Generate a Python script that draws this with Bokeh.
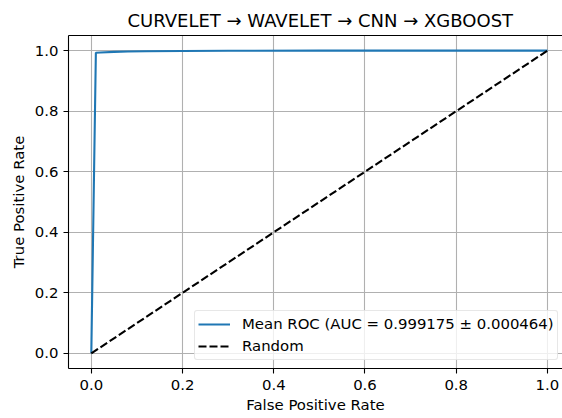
from bokeh.plotting import figure
from bokeh.models import FixedTicker, LinearAxis, Range1d, Legend, LegendItem
from bokeh.embed import file_html
from bokeh.resources import INLINE

# data
mean_fpr = [0.0, 0.01, 0.02, 0.05, 0.08, 0.12, 0.2, 0.3, 0.5, 1.0]
mean_tpr = [0.0, 0.993, 0.994, 0.996, 0.997, 0.998, 0.999, 0.9995, 1.0, 1.0]
rand_x = [0.0, 1.0]
rand_y = [0.0, 1.0]
ticks = [0.0, 0.2, 0.4, 0.6, 0.8, 1.0]
tick_labels = ["0.0", "0.2", "0.4", "0.6", "0.8", "1.0"]
title_text = "CURVELET \u2192 WAVELET \u2192 CNN \u2192 XGBOOST"
mean_label = "Mean ROC (AUC = 0.999175 \u00b1 0.000464)"
rand_label = "Random"

FONT = "DejaVu Sans"
FS = "14.9px"

p = figure(
    output_backend="svg", toolbar_location=None,
    frame_width=494, frame_height=333,
    min_border_left=68, min_border_right=0, min_border_top=35, min_border_bottom=48,
    x_range=Range1d(-0.05, 1.033), y_range=Range1d(-0.05, 1.05),
    x_axis_label="False Positive Rate", y_axis_label="True Positive Rate",
)
p.outline_line_color = None
p.background_fill_color = "white"
p.border_fill_color = "white"

p.title.text = title_text
p.title.text_font = FONT
p.title.text_font_size = "18px"
p.title.text_font_style = "normal"
p.title.align = "left"
p.title.offset = 59
p.title.text_color = "black"

lbl = dict(zip(ticks, tick_labels))
for ax in (p.xaxis[0], p.yaxis[0]):
    ax.ticker = FixedTicker(ticks=ticks)
    ax.major_label_overrides = lbl
    ax.major_label_text_font = FONT
    ax.major_label_text_font_size = FS
    ax.major_label_text_color = "black"
    ax.axis_label_text_font = FONT
    ax.axis_label_text_font_size = FS
    ax.axis_label_text_font_style = "normal"
    ax.axis_label_text_color = "black"
    ax.major_tick_out = 5
    ax.major_tick_in = 0
    ax.minor_tick_line_color = None
    ax.axis_line_color = "black"
    ax.axis_line_width = 1.1
    ax.major_tick_line_color = "black"
    ax.major_tick_line_width = 1.1
p.xaxis[0].major_label_standoff = 6
p.yaxis[0].major_label_standoff = 5
p.xaxis[0].axis_label_standoff = 3
p.yaxis[0].axis_label_standoff = 4

top = LinearAxis(ticker=FixedTicker(ticks=[]), axis_line_color="black", axis_line_width=1.1,
                 major_tick_line_color=None, minor_tick_line_color=None,
                 major_label_text_font_size="0px")
p.add_layout(top, "above")

for g in (p.xgrid[0], p.ygrid[0]):
    g.ticker = FixedTicker(ticks=ticks)
    g.grid_line_color = "#b0b0b0"
    g.grid_line_width = 1.1

r1 = p.line(mean_fpr, mean_tpr, line_color="#1f77b4", line_width=2.1)
r2 = p.line(rand_x, rand_y, line_color="black", line_width=2.1, line_dash="8 3")

legend = Legend(items=[LegendItem(label=mean_label, renderers=[r1]),
                       LegendItem(label=rand_label, renderers=[r2])])
legend.location = (126, 8)
legend.margin = 0
legend.padding = 3
legend.spacing = 2
legend.label_text_font = FONT
legend.label_text_font_size = FS
legend.label_text_color = "black"
legend.label_height = 20
legend.glyph_height = 20
legend.glyph_width = 32
legend.label_standoff = 12
legend.border_line_color = "#d0d0d0"
legend.border_line_width = 1
legend.border_radius = 3
legend.background_fill_alpha = 0.8
p.add_layout(legend, "center")

open("out.html", "w").write(file_html(p, INLINE))
